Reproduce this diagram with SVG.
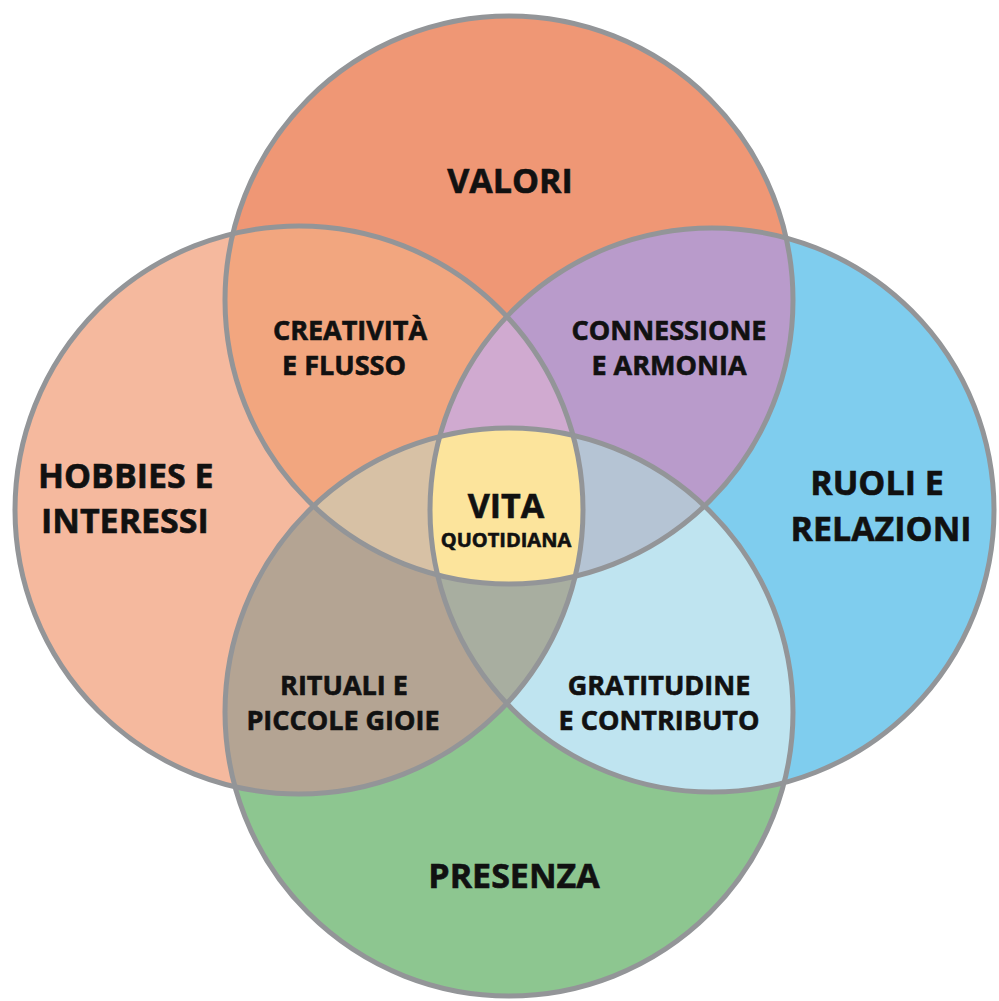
<svg xmlns="http://www.w3.org/2000/svg" width="999" height="1001" viewBox="0 0 999 1001">
<style>
.lbl{font-family:"Open Sans","Liberation Sans",sans-serif;font-weight:700;fill:#111;stroke:#111;stroke-width:0.6;text-anchor:middle}
.big{font-size:34px}
.mid{font-size:27px}
.sm{font-size:20px}
.ring{fill:none;stroke:#939598;stroke-width:5}
</style>
<defs>
<clipPath id="cT"><circle cx="509" cy="300" r="284"/></clipPath>
<clipPath id="cL"><circle cx="299" cy="510" r="284"/></clipPath>
<clipPath id="cR"><circle cx="712" cy="510" r="282"/></clipPath>
<clipPath id="cB"><circle cx="509" cy="712" r="284"/></clipPath>
<circle id="sT" cx="509" cy="300" r="284"/>
<circle id="sL" cx="299" cy="510" r="284"/>
<circle id="sR" cx="712" cy="510" r="282"/>
<circle id="sB" cx="509" cy="712" r="284"/>
</defs>
<rect width="999" height="1001" fill="#fff"/>
<g id="fills">
<use href="#sT" fill="#EF9775"/>
<use href="#sL" fill="#F5B99E"/>
<use href="#sR" fill="#7FCDEE"/>
<use href="#sB" fill="#8DC690"/>
<g clip-path="url(#cT)"><use href="#sL" fill="#F2A67F"/><use href="#sR" fill="#B99BCB"/></g>
<g clip-path="url(#cB)"><use href="#sL" fill="#B4A493"/><use href="#sR" fill="#BFE4F0"/></g>
<g clip-path="url(#cT)"><g clip-path="url(#cL)"><use href="#sR" fill="#D0AAD0"/><use href="#sB" fill="#D7C1A5"/></g></g>
<g clip-path="url(#cT)"><g clip-path="url(#cR)"><use href="#sB" fill="#B5C4D4"/></g></g>
<g clip-path="url(#cB)"><g clip-path="url(#cL)"><use href="#sR" fill="#A8AEA0"/></g></g>
<g clip-path="url(#cT)"><g clip-path="url(#cL)"><g clip-path="url(#cR)"><use href="#sB" fill="#FCE49C"/></g></g></g>
</g>
<g id="outlines">
<use href="#sT" class="ring"/>
<use href="#sL" class="ring"/>
<use href="#sR" class="ring"/>
<use href="#sB" class="ring"/>
</g>
<g id="valori"><text class="lbl big" x="510" y="193">VALORI</text></g>
<g id="hobbies"><text class="lbl big" x="38" y="488" style="text-anchor:start">HOBBIES E</text><text class="lbl big" x="41" y="533" style="text-anchor:start">INTERESSI</text></g>
<g id="ruoli"><text class="lbl big" x="877" y="495">RUOLI E</text><text class="lbl big" x="881" y="541">RELAZIONI</text></g>
<g id="presenza"><text class="lbl big" x="514" y="888">PRESENZA</text></g>
<g id="creativita"><text class="lbl mid" x="350" y="340">CREATIVITÀ</text><text class="lbl mid" x="344" y="375">E FLUSSO</text></g>
<g id="connessione"><text class="lbl mid" x="669" y="340">CONNESSIONE</text><text class="lbl mid" x="669" y="375">E ARMONIA</text></g>
<g id="rituali"><text class="lbl mid" x="344" y="695">RITUALI E</text><text class="lbl mid" x="343" y="730">PICCOLE GIOIE</text></g>
<g id="gratitudine"><text class="lbl mid" x="659" y="695">GRATITUDINE</text><text class="lbl mid" x="659" y="730">E CONTRIBUTO</text></g>
<g id="vita"><text class="lbl big" x="506" y="518">VITA</text><text class="lbl sm" x="506" y="547">QUOTIDIANA</text></g>
</svg>
